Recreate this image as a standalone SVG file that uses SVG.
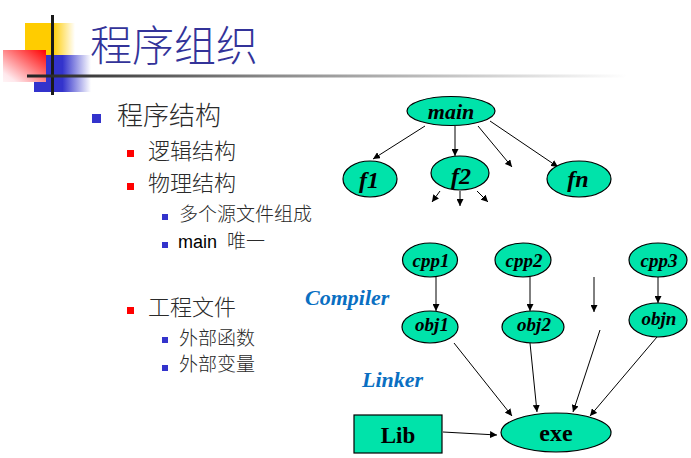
<svg xmlns="http://www.w3.org/2000/svg" width="691" height="458" viewBox="0 0 691 458">
<defs>
<linearGradient id="gY" x1="0" y1="0" x2="1" y2="0"><stop offset="0" stop-color="#FFCC00"/><stop offset="0.55" stop-color="#FFCC00"/><stop offset="1" stop-color="#FFCC00" stop-opacity="0"/></linearGradient>
<linearGradient id="gB" x1="0" y1="0" x2="1" y2="0"><stop offset="0" stop-color="#3333CC"/><stop offset="0.5" stop-color="#3333CC"/><stop offset="1" stop-color="#3333CC" stop-opacity="0"/></linearGradient>
<linearGradient id="gR" x1="1" y1="0" x2="0" y2="1"><stop offset="0" stop-color="#FF0000"/><stop offset="0.85" stop-color="#FFE8EC"/><stop offset="1" stop-color="#FFF4F6"/></linearGradient>
<linearGradient id="gL" x1="0" y1="0" x2="1" y2="0"><stop offset="0" stop-color="#222222"/><stop offset="0.4" stop-color="#888888"/><stop offset="1" stop-color="#FFFFFF"/></linearGradient>
<marker id="ah" viewBox="0 0 10 10" refX="10" refY="5" markerWidth="7" markerHeight="7" markerUnits="userSpaceOnUse" orient="auto"><path d="M0,0 L10,5 L0,10 z" fill="#000"/></marker>
</defs>
<style>
.nd{fill:#00E3AA;stroke:#000;stroke-width:1.2}
.lb{font-family:"Liberation Serif",serif;font-weight:bold;font-style:italic;fill:#000;text-anchor:middle}
.lbn{font-family:"Liberation Serif",serif;font-weight:bold;fill:#000;text-anchor:middle}
.cn line{stroke:#000;stroke-width:1;marker-end:url(#ah)}
.cjk{font-family:"Noto Sans CJK SC",sans-serif;fill:#2a2a2a;font-weight:300}
.st{font-family:"Liberation Serif",serif;font-weight:bold;font-style:italic;fill:#0A6FC2;font-size:22px}
</style>
<rect width="691" height="458" fill="#fff"/>
<g id="logo">
<rect x="25" y="23" width="50" height="32" fill="url(#gY)"/>
<rect x="34" y="55" width="57" height="37" fill="url(#gB)"/>
<rect x="3" y="50" width="43" height="32" fill="url(#gR)"/>
<rect x="51" y="15" width="3" height="80" fill="#1a1a1a"/>
<rect x="27" y="74.5" width="600" height="3" fill="url(#gL)"/>
</g>
<text id="title" x="90" y="61" font-family="Noto Sans CJK SC, sans-serif" font-size="42" font-weight="300" fill="#333399">程序组织</text>
<g id="list">
<rect x="92" y="114" width="9" height="9" fill="#3333CC"/>
<text class="cjk" x="117" y="125" font-size="26">程序结构</text>
<rect x="127" y="150" width="7" height="7" fill="#FF0000"/>
<text class="cjk" x="148" y="159" font-size="22">逻辑结构</text>
<rect x="127" y="183" width="7" height="7" fill="#FF0000"/>
<text class="cjk" x="148" y="191" font-size="22">物理结构</text>
<rect x="162" y="214" width="6" height="6" fill="#3333CC"/>
<text class="cjk" x="179" y="221" font-size="19">多个源文件组成</text>
<rect x="162" y="242" width="6" height="6" fill="#3333CC"/>
<text x="178" y="248"><tspan font-family="Liberation Sans, sans-serif" font-size="18" fill="#000">main</tspan><tspan x="227" font-family="Noto Sans CJK SC, sans-serif" font-size="19" font-weight="300" fill="#2a2a2a">唯一</tspan></text>
<rect x="127" y="307" width="7" height="7" fill="#FF0000"/>
<text class="cjk" x="148" y="315" font-size="22">工程文件</text>
<rect x="162" y="337" width="6" height="6" fill="#3333CC"/>
<text class="cjk" x="179" y="345" font-size="19">外部函数</text>
<rect x="162" y="365" width="6" height="6" fill="#3333CC"/>
<text class="cjk" x="179" y="371" font-size="19">外部变量</text>
</g>
<g id="connectors" class="cn">
<line x1="425" y1="126" x2="373" y2="159"/>
<line x1="455" y1="126" x2="455" y2="156"/>
<line x1="478" y1="126" x2="512" y2="167"/>
<line x1="490" y1="121" x2="558" y2="167"/>
<line x1="440" y1="191" x2="432" y2="202"/>
<line x1="460" y1="191" x2="460" y2="206"/>
<line x1="477" y1="191" x2="488" y2="202"/>
<line x1="436" y1="277" x2="436" y2="311"/>
<line x1="530" y1="277" x2="530" y2="311"/>
<line x1="594" y1="277" x2="594" y2="312"/>
<line x1="658" y1="277" x2="658" y2="303"/>
<line x1="454" y1="343" x2="512" y2="416"/>
<line x1="530" y1="343" x2="537" y2="412"/>
<line x1="600" y1="330" x2="573" y2="412"/>
<line x1="657" y1="337" x2="590" y2="416"/>
<line x1="443" y1="432" x2="497" y2="435"/>
</g>
<g id="main"><ellipse class="nd" cx="451" cy="111" rx="44" ry="14.5"/><text class="lb" x="451" y="119" font-size="22">main</text></g>
<g id="f1"><ellipse class="nd" cx="370" cy="179" rx="27" ry="18"/><text class="lb" x="369" y="188" font-size="24">f1</text></g>
<g id="f2"><ellipse class="nd" cx="460" cy="173" rx="29" ry="17"/><text class="lb" x="461" y="184" font-size="24">f2</text></g>
<g id="fn"><ellipse class="nd" cx="579" cy="179" rx="32" ry="18"/><text class="lb" x="578" y="187" font-size="24">fn</text></g>
<g id="cpp1"><ellipse class="nd" cx="430" cy="260" rx="27.5" ry="17"/><text class="lb" x="431" y="267" font-size="19">cpp1</text></g>
<g id="cpp2"><ellipse class="nd" cx="523" cy="260" rx="28" ry="17"/><text class="lb" x="524" y="267" font-size="19">cpp2</text></g>
<g id="cpp3"><ellipse class="nd" cx="658" cy="260" rx="29" ry="17"/><text class="lb" x="659" y="267" font-size="19">cpp3</text></g>
<g id="obj1"><ellipse class="nd" cx="430" cy="327" rx="28" ry="16"/><text class="lb" x="432" y="331" font-size="19">obj1</text></g>
<g id="obj2"><ellipse class="nd" cx="533" cy="327" rx="31" ry="16"/><text class="lb" x="534" y="331" font-size="19">obj2</text></g>
<g id="objn"><ellipse class="nd" cx="658" cy="320" rx="29" ry="17"/><text class="lb" x="659" y="325" font-size="19">objn</text></g>
<g id="exe"><ellipse class="nd" cx="556" cy="432.5" rx="55" ry="19.5"/><text class="lbn" x="556" y="441" font-size="24">exe</text></g>
<g id="Lib"><rect x="354" y="415" width="88" height="38" fill="#00E3AA" stroke="#000" stroke-width="1.2"/><text class="lbn" x="398" y="443" font-size="23">Lib</text></g>
<text class="st" x="305" y="305">Compiler</text>
<text class="st" x="362" y="387">Linker</text>
</svg>
